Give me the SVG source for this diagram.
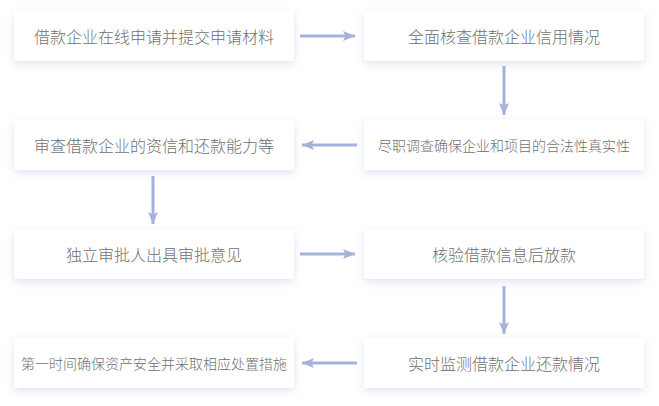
<svg xmlns="http://www.w3.org/2000/svg" width="659" height="406" viewBox="0 0 659 406">
<defs>
<filter id="sh" x="-10%" y="-30%" width="120%" height="170%">
<feDropShadow dx="0" dy="3" stdDeviation="4" flood-color="#b9c3e0" flood-opacity="0.45"/>
</filter>
<marker id="ah" viewBox="0 0 12 10" refX="12" refY="5" markerWidth="12" markerHeight="10" markerUnits="userSpaceOnUse" orient="auto">
<path d="M0,0 L12,5 L0,10 L2.5,5 Z" fill="#a4b3da"/>
</marker>
<style>
.box{fill:#ffffff;filter:url(#sh)}
.t{font-family:"Noto Sans CJK SC","Noto Sans",sans-serif;font-size:16px;font-weight:300;fill:#707070;text-anchor:middle;dominant-baseline:central}
.s{font-size:14px}
.c{stroke:#a4b3da;stroke-width:3;fill:none;marker-end:url(#ah)}
</style>
</defs>
<rect width="659" height="406" fill="#ffffff"/>
<g id="n1"><rect class="box" x="14" y="11" width="280" height="50" rx="3"/><text class="t" x="154" y="36">借款企业在线申请并提交申请材料</text></g>
<g id="n2"><rect class="box" x="364" y="11" width="280" height="50" rx="3"/><text class="t" x="504" y="36">全面核查借款企业信用情况</text></g>
<g id="n3"><rect class="box" x="364" y="120" width="280" height="50" rx="3"/><text class="t s" x="504" y="145">尽职调查确保企业和项目的合法性真实性</text></g>
<g id="n4"><rect class="box" x="14" y="120" width="280" height="50" rx="3"/><text class="t" x="154" y="145">审查借款企业的资信和还款能力等</text></g>
<g id="n5"><rect class="box" x="14" y="229" width="280" height="50" rx="3"/><text class="t" x="154" y="254">独立审批人出具审批意见</text></g>
<g id="n6"><rect class="box" x="364" y="229" width="280" height="50" rx="3"/><text class="t" x="504" y="254">核验借款信息后放款</text></g>
<g id="n7"><rect class="box" x="364" y="338" width="280" height="50" rx="3"/><text class="t" x="504" y="363">实时监测借款企业还款情况</text></g>
<g id="n8"><rect class="box" x="14" y="338" width="280" height="50" rx="3"/><text class="t s" x="154" y="363">第一时间确保资产安全并采取相应处置措施</text></g>
<g id="connectors">
<line class="c" x1="300" y1="36" x2="355" y2="36"/>
<line class="c" x1="504" y1="66" x2="504" y2="115"/>
<line class="c" x1="357" y1="145" x2="302" y2="145"/>
<line class="c" x1="153" y1="176" x2="153" y2="224"/>
<line class="c" x1="300" y1="254" x2="355" y2="254"/>
<line class="c" x1="504" y1="286" x2="504" y2="334"/>
<line class="c" x1="357" y1="363" x2="302" y2="363"/>
</g>
</svg>
